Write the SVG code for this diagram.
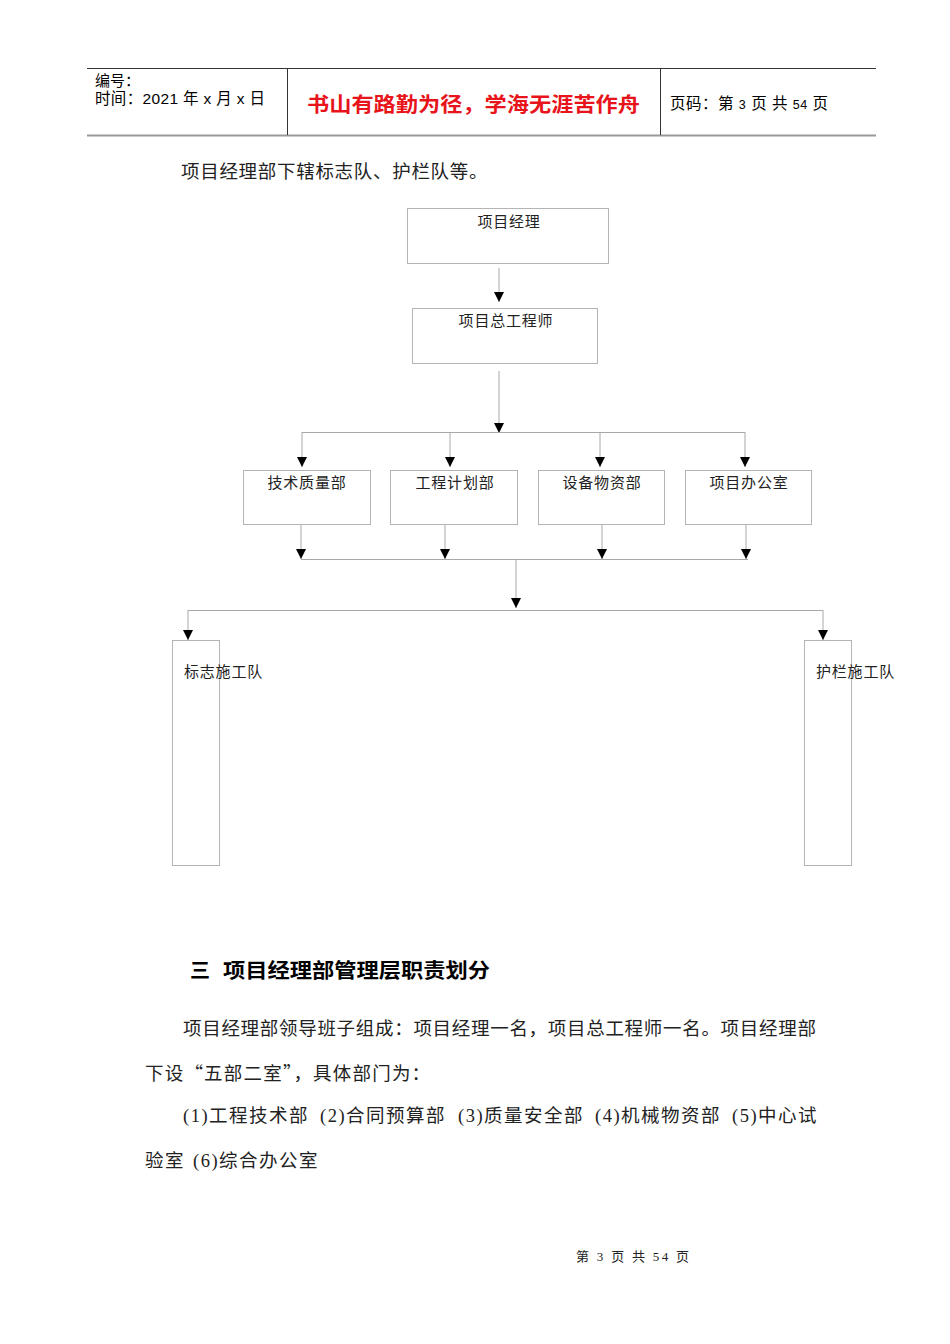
<svg xmlns="http://www.w3.org/2000/svg" width="950" height="1344" viewBox="0 0 950 1344">
<defs>
<marker id="ah" markerUnits="userSpaceOnUse" markerWidth="10" markerHeight="10" refX="10" refY="5" orient="auto" viewBox="0 0 10 10">
<path d="M0,0 L10,5 L0,10 z" fill="#000"/>
</marker>
</defs>
<style>
.sans{font-family:"Liberation Sans","Noto Sans CJK SC",sans-serif;fill:#000}
.serif{font-family:"Liberation Serif","Noto Sans CJK SC",serif;fill:#222}
.cjk{font-family:"Noto Sans CJK SC",sans-serif}
.box{fill:#fff;stroke:#b4b4b4;stroke-width:1}
.ln{stroke:#a8a8a8;stroke-width:1;fill:none}
.lab{font-size:15px;letter-spacing:0.8px;text-anchor:middle}
.body{font-size:18.5px;letter-spacing:0.7px}
</style>
<rect width="950" height="1344" fill="#fff"/>
<g id="header">
<line x1="87" y1="68.5" x2="876" y2="68.5" stroke="#333" stroke-width="1"/>
<line x1="87" y1="135.5" x2="876" y2="135.5" stroke="#999" stroke-width="2"/>
<line x1="287.5" y1="68" x2="287.5" y2="135" stroke="#333" stroke-width="1"/>
<line x1="660.5" y1="68" x2="660.5" y2="135" stroke="#333" stroke-width="1"/>
<text class="sans" x="95" y="86" font-size="15">编号：</text>
<text class="sans" x="95" y="104" font-size="15.5" textLength="170" lengthAdjust="spacing">时间：2021 年 x 月 x 日</text>
<text x="307" y="112" font-size="20.5" font-weight="bold" fill="#e8141b" font-family="Liberation Sans,Noto Sans CJK SC,sans-serif" textLength="333" lengthAdjust="spacingAndGlyphs">书山有路勤为径，学海无涯苦作舟</text>
<text class="sans" x="670" y="109" font-size="15.5" textLength="158" lengthAdjust="spacing">页码：第 <tspan font-size="12.5">3</tspan> 页  共 <tspan font-size="12.5">54</tspan> 页</text>
</g>
<text class="serif body" x="181" y="178">项目经理部下辖标志队、护栏队等。</text>
<g id="connectors">
<line class="ln" x1="499" y1="268" x2="499" y2="302" marker-end="url(#ah)"/>
<line class="ln" x1="499" y1="371" x2="499" y2="433" marker-end="url(#ah)"/>
<line class="ln" x1="302" y1="432.5" x2="745" y2="432.5"/>
<line class="ln" x1="302" y1="432" x2="302" y2="467" marker-end="url(#ah)"/>
<line class="ln" x1="450" y1="432" x2="450" y2="467" marker-end="url(#ah)"/>
<line class="ln" x1="600" y1="432" x2="600" y2="467" marker-end="url(#ah)"/>
<line class="ln" x1="745" y1="432" x2="745" y2="467" marker-end="url(#ah)"/>
<line class="ln" x1="301" y1="524" x2="301" y2="559" marker-end="url(#ah)"/>
<line class="ln" x1="445" y1="524" x2="445" y2="559" marker-end="url(#ah)"/>
<line class="ln" x1="602" y1="524" x2="602" y2="559" marker-end="url(#ah)"/>
<line class="ln" x1="746" y1="524" x2="746" y2="559" marker-end="url(#ah)"/>
<line class="ln" x1="301" y1="559.5" x2="748" y2="559.5"/>
<line class="ln" x1="516" y1="559" x2="516" y2="608" marker-end="url(#ah)"/>
<line class="ln" x1="188" y1="610.5" x2="823" y2="610.5"/>
<line class="ln" x1="188" y1="610" x2="188" y2="640" marker-end="url(#ah)"/>
<line class="ln" x1="823" y1="610" x2="823" y2="640" marker-end="url(#ah)"/>
</g>
<g id="n_pm">
<rect class="box" x="407.5" y="208.5" width="201" height="55"/>
<text class="serif lab" x="509" y="227">项目经理</text>
</g>
<g id="n_chief">
<rect class="box" x="412.5" y="308.5" width="185" height="55"/>
<text class="serif lab" x="506" y="326">项目总工程师</text>
</g>
<g id="n_tech">
<rect class="box" x="243.5" y="470.5" width="127" height="54"/>
<text class="serif lab" x="307" y="488">技术质量部</text>
</g>
<g id="n_plan">
<rect class="box" x="390.5" y="470.5" width="127" height="54"/>
<text class="serif lab" x="455" y="488">工程计划部</text>
</g>
<g id="n_equip">
<rect class="box" x="538.5" y="470.5" width="126" height="54"/>
<text class="serif lab" x="602" y="488">设备物资部</text>
</g>
<g id="n_office">
<rect class="box" x="685.5" y="470.5" width="126" height="54"/>
<text class="serif lab" x="749" y="488">项目办公室</text>
</g>
<g id="n_sign">
<rect class="box" x="172.5" y="640.5" width="47" height="225" style="fill:none"/>
<text class="serif" x="184" y="677" font-size="15" letter-spacing="0.8">标志施工队</text>
</g>
<g id="n_rail">
<rect class="box" x="804.5" y="640.5" width="47" height="225" style="fill:none"/>
<text class="serif" x="816" y="677" font-size="15" letter-spacing="0.8">护栏施工队</text>
</g>
<g id="section">
<text class="sans" x="190" y="978" font-size="20" font-weight="bold">三</text>
<text class="sans" x="223" y="978" font-size="20" font-weight="bold" textLength="267" lengthAdjust="spacingAndGlyphs">项目经理部管理层职责划分</text>
<text class="serif body" x="183" y="1035">项目经理部领导班子组成：项目经理一名，项目总工程师一名。项目经理部</text>
<text class="serif body" x="145" y="1080" style="letter-spacing:1.2px">下设<tspan class="cjk">“</tspan>五部二室<tspan class="cjk">”</tspan>，具体部门为：</text>
<text class="serif body" y="1122" style="letter-spacing:1.5px"><tspan x="183">(1)工程技术部</tspan><tspan x="320">(2)合同预算部</tspan><tspan x="458">(3)质量安全部</tspan><tspan x="595">(4)机械物资部</tspan><tspan x="732">(5)中心试</tspan></text>
<text class="serif body" y="1167" style="letter-spacing:1.5px"><tspan x="145">验室</tspan><tspan x="193">(6)综合办公室</tspan></text>
</g>
<text class="serif" x="576" y="1261" font-size="13" textLength="113" lengthAdjust="spacing">第 3 页 共 54 页</text>
</svg>
